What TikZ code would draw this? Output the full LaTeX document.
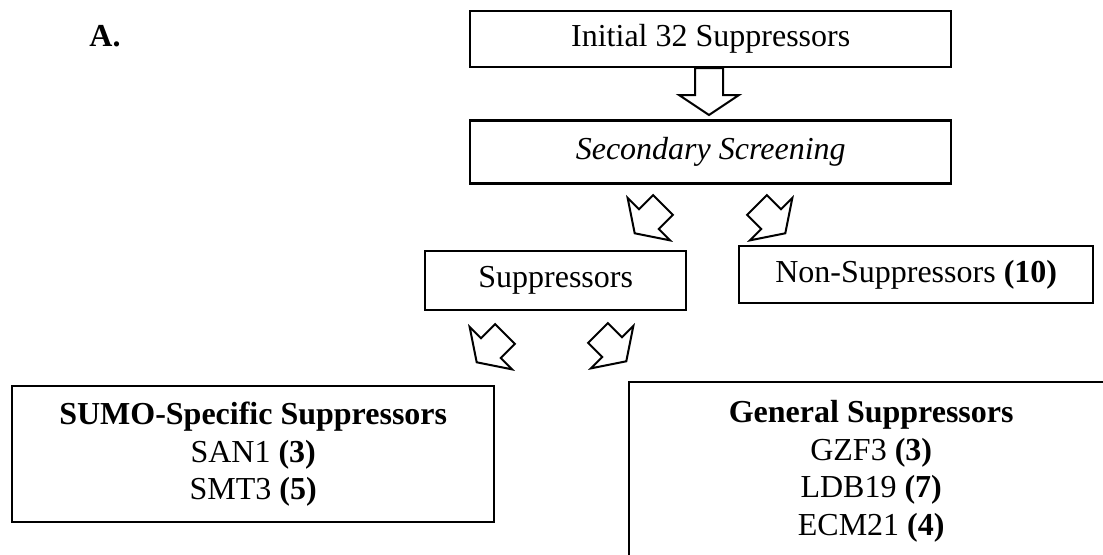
\documentclass[tikz,border=0pt]{standalone}
\usepackage{fontspec}
\setmainfont{Liberation Serif}
\usetikzlibrary{positioning}
\definecolor{Ink}{HTML}{000000}
\tikzset{
  box/.style={draw=Ink,fill=white,line width=1.2pt,align=center,inner sep=0pt,font=\fontsize{16}{18.8}\selectfont},
  tag/.style={font=\fontsize{16}{18.8}\selectfont\bfseries},
  hollow/.style={draw=Ink,fill=white,line width=1pt,line join=miter}
}
\newcommand{\blockarrow}[3]{\draw[hollow,shift={#1},rotate=#2] (-14,0) -- (14,0) -- (14,#3) -- (30,#3) -- (0,#3+20) -- (-30,#3) -- (-14,#3) -- cycle;}

\begin{document}
\begin{tikzpicture}[x=0.5pt,y=-0.5pt]
        \path[fill=white,use as bounding box] (0,0) rectangle (1103,554);
        \clip (0,0) rectangle (1103,554);
        \node[tag] (label) at (105,36) {A.};

        \node[box,anchor=north west,minimum width=240.5pt,minimum height=28pt] (initial) at (469,10) {Initial 32 Suppressors};
        \node[box,minimum width=240.5pt,minimum height=31.5pt,below=25.5pt of initial] (secondary) {\textit{Secondary Screening}};
        \blockarrow{(709,68)}{0}{27}

        \node[box,anchor=north west,minimum width=130.5pt,minimum height=29.5pt] (supp) at (424,250) {Suppressors};
        \node[box,anchor=north west,minimum width=177pt,minimum height=28.5pt] (nonsupp) at (738,245) {Non-Suppressors \textbf{(10)}};
        \blockarrow{(663,205)}{-45}{20}
        \blockarrow{(757,205)}{45}{20}

        \node[box,anchor=north west,minimum width=241pt,minimum height=68pt] (sumo) at (11,385) {\textbf{SUMO-Specific Suppressors}\\SAN1 \textbf{(3)}\\SMT3 \textbf{(5)}};
        \node[box,anchor=north west,minimum width=242pt,minimum height=89pt] (general) at (628,381) {\textbf{General Suppressors}\\GZF3 \textbf{(3)}\\LDB19 \textbf{(7)}\\ECM21 \textbf{(4)}};
        \blockarrow{(505,334)}{-45}{20}
        \blockarrow{(598,333)}{45}{20}
      \end{tikzpicture}
\end{document}
